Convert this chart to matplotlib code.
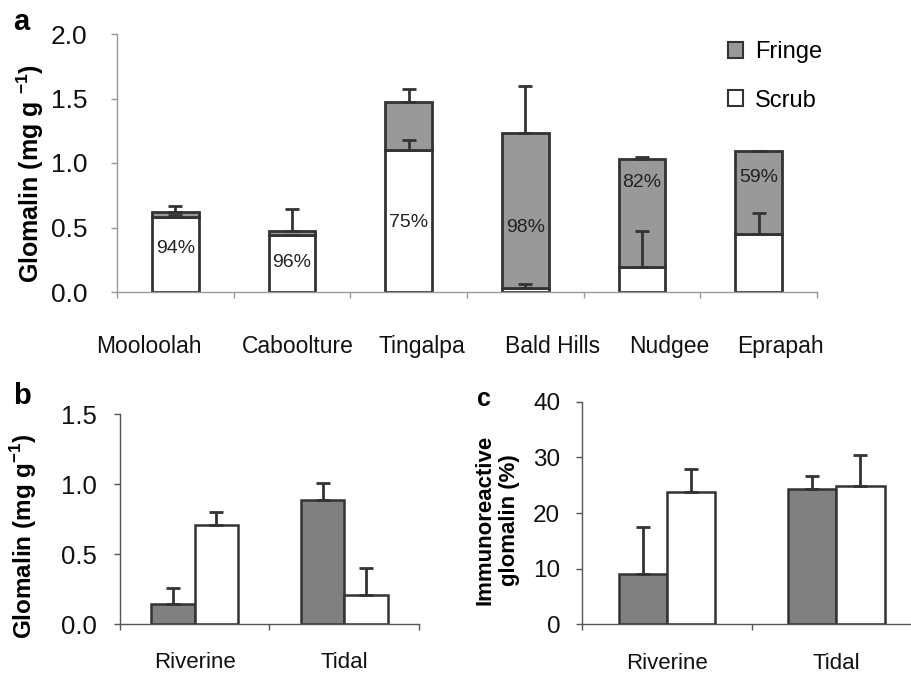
import matplotlib
matplotlib.use("Agg")
import matplotlib.pyplot as plt
import numpy as np
from matplotlib.patches import Patch

plt.rcParams['font.family'] = ['Liberation Sans', 'DejaVu Sans']
plt.rcParams['mathtext.fontset'] = 'custom'
plt.rcParams['mathtext.rm'] = 'Liberation Sans'
plt.rcParams['mathtext.bf'] = 'Liberation Sans:bold'

# ---- Panel a data ----
sites = ["Mooloolah", "Caboolture", "Tingalpa", "Bald Hills", "Nudgee", "Eprapah"]
scrub_a = [0.58, 0.44, 1.10, 0.03, 0.19, 0.45]
fringe_a = [0.04, 0.03, 0.37, 1.20, 0.84, 0.64]
scrub_err_a = [0.02, 0.0, 0.08, 0.03, 0.28, 0.16]
fringe_err_a = [0.05, 0.17, 0.10, 0.37, 0.02, 0.0]
pct_labels = ["94%", "96%", "75%", "98%", "82%", "59%"]

# ---- Panel b data ----
groups = ["Riverine", "Tidal"]
fringe_b = [0.14, 0.89]
fringe_err_b = [0.12, 0.12]
scrub_b = [0.71, 0.21]
scrub_err_b = [0.09, 0.19]

# ---- Panel c data ----
fringe_c = [9.0, 24.3]
fringe_err_c = [8.4, 2.4]
scrub_c = [23.7, 24.9]
scrub_err_c = [4.2, 5.5]

# ---- layout (positions only) ----
pct_y = [0.34, 0.23, 0.54, 0.50, 0.85, 0.89]          # label heights inside bars
label_shift = [-0.23, 0.05, 0.11, 0.23, 0.23, 0.19]   # x-offset of site labels

W, H = 912, 676
fig = plt.figure(figsize=(W / 100, H / 100), dpi=100)

edge = "#333333"
err_kw = dict(ecolor=edge, elinewidth=2, capsize=5, capthick=2)


def px_axes(l, t, r, b):
    return fig.add_axes([l / W, 1 - b / H, (r - l) / W, (b - t) / H])


def style(ax, spine_col, yfs, xfs, xpad, ypad):
    for s in ["top", "right"]:
        ax.spines[s].set_visible(False)
    for s in ["left", "bottom"]:
        ax.spines[s].set_color(spine_col)
        ax.spines[s].set_linewidth(1.0)
    ax.tick_params(axis="y", colors=spine_col, labelcolor="#111111",
                   labelsize=yfs, length=4.3, width=1.0, pad=ypad)
    ax.tick_params(axis="x", which="major", length=0, pad=xpad,
                   labelsize=xfs, labelcolor="#111111")
    ax.tick_params(axis="x", which="minor", length=4, width=1.0, colors=spine_col)


# ---- Panel a ----
axa = px_axes(117, 34, 817, 292)
x = np.arange(len(sites))
bw = 0.4
axa.bar(x, scrub_a, bw, color="white", edgecolor=edge, linewidth=2, zorder=2)
axa.bar(x, fringe_a, bw, bottom=scrub_a, color="#999999", edgecolor=edge,
        linewidth=2, zorder=2)
tot = np.array(scrub_a) + np.array(fringe_a)
axa.errorbar(x, tot, yerr=[np.zeros(len(x)), fringe_err_a], fmt="none", zorder=3, **err_kw)
axa.errorbar(x, scrub_a, yerr=[np.zeros(len(x)), scrub_err_a], fmt="none", zorder=3, **err_kw)
for xi, lab, yy in zip(x, pct_labels, pct_y):
    axa.text(xi, yy, lab, ha="center", va="center", fontsize=14, color="#222222", zorder=4)
axa.set_xlim(-0.5, len(sites) - 0.5)
axa.set_ylim(0, 2.0)
axa.set_yticks([0, 0.5, 1.0, 1.5, 2.0])
axa.set_yticklabels(["0.0", "0.5", "1.0", "1.5", "2.0"])
axa.set_xticks(x + np.array(label_shift))
axa.set_xticklabels(sites)
axa.set_xticks(np.arange(-0.5, len(sites)), minor=True)
style(axa, "#999999", 19, 16.5, 31, 17)
axa.set_ylabel("Glomalin (mg g $^{\\mathbf{-1}}$)", fontsize=18, fontweight="bold")
axa.yaxis.set_label_coords(-0.101, 0.46)
handles = [Patch(facecolor="#999999", edgecolor=edge, linewidth=1.5, label="Fringe"),
           Patch(facecolor="white", edgecolor=edge, linewidth=1.5, label="Scrub")]
axa.legend(handles=handles, loc="upper left", bbox_to_anchor=(0.842, 1.055),
           frameon=False, fontsize=17, handlelength=0.65, handleheight=0.65,
           handletextpad=0.5, labelspacing=1.12)
fig.text(21 / W, 1 - 22 / H, "a", fontsize=21, fontweight="bold", ha="center", va="center")

# ---- Panel b ----
axb = px_axes(120, 414.3, 419, 624)
xb = np.arange(len(groups))
w2 = 0.29
axb.bar(xb - w2 / 2, fringe_b, w2, color="#808080", edgecolor=edge, linewidth=1.8, zorder=2)
axb.bar(xb + w2 / 2, scrub_b, w2, color="white", edgecolor=edge, linewidth=1.8, zorder=2)
axb.errorbar(xb - w2 / 2, fringe_b, yerr=[np.zeros(2), fringe_err_b], fmt="none", zorder=3, **err_kw)
axb.errorbar(xb + w2 / 2, scrub_b, yerr=[np.zeros(2), scrub_err_b], fmt="none", zorder=3, **err_kw)
axb.set_xlim(-0.5, 1.5)
axb.set_ylim(0, 1.5)
axb.set_yticks([0, 0.5, 1.0, 1.5])
axb.set_yticklabels(["0.0", "0.5", "1.0", "1.5"])
axb.set_xticks(xb)
axb.set_xticklabels(groups)
axb.set_xticks([-0.5, 0.5, 1.5], minor=True)
style(axb, "#555555", 18.5, 16, 20.5, 12)
axb.set_ylabel("Glomalin (mg g$^{\\mathbf{-1}}$)", fontsize=17.5, fontweight="bold")
axb.yaxis.set_label_coords(-0.271, 0.42)
fig.text(22 / W, 1 - 396 / H, "b", fontsize=21, fontweight="bold", ha="center", va="center")

# ---- Panel c ----
axc = px_axes(582.3, 401.7, 921, 624.3)
w3 = 0.285
axc.bar(xb - w3 / 2, fringe_c, w3, color="#808080", edgecolor=edge, linewidth=1.8, zorder=2)
axc.bar(xb + w3 / 2, scrub_c, w3, color="white", edgecolor=edge, linewidth=1.8, zorder=2)
axc.errorbar(xb - w3 / 2, fringe_c, yerr=[np.zeros(2), fringe_err_c], fmt="none", zorder=3, **err_kw)
axc.errorbar(xb + w3 / 2, scrub_c, yerr=[np.zeros(2), scrub_err_c], fmt="none", zorder=3, **err_kw)
axc.set_xlim(-0.5, 1.5)
axc.set_ylim(0, 40)
axc.set_yticks([0, 10, 20, 30, 40])
axc.set_xticks(xb)
axc.set_xticklabels(groups)
axc.set_xticks([-0.5, 0.5, 1.5], minor=True)
style(axc, "#555555", 17.5, 16, 20.5, 11.5)
axc.set_ylabel("Immunoreactive\nglomalin (%)", fontsize=16, fontweight="bold", linespacing=1.2)
axc.yaxis.set_label_coords(-0.184, 0.47)
fig.text(484 / W, 1 - 399 / H, "c", fontsize=18, fontweight="bold", ha="center", va="center")

fig.savefig("out.png", dpi=100)
